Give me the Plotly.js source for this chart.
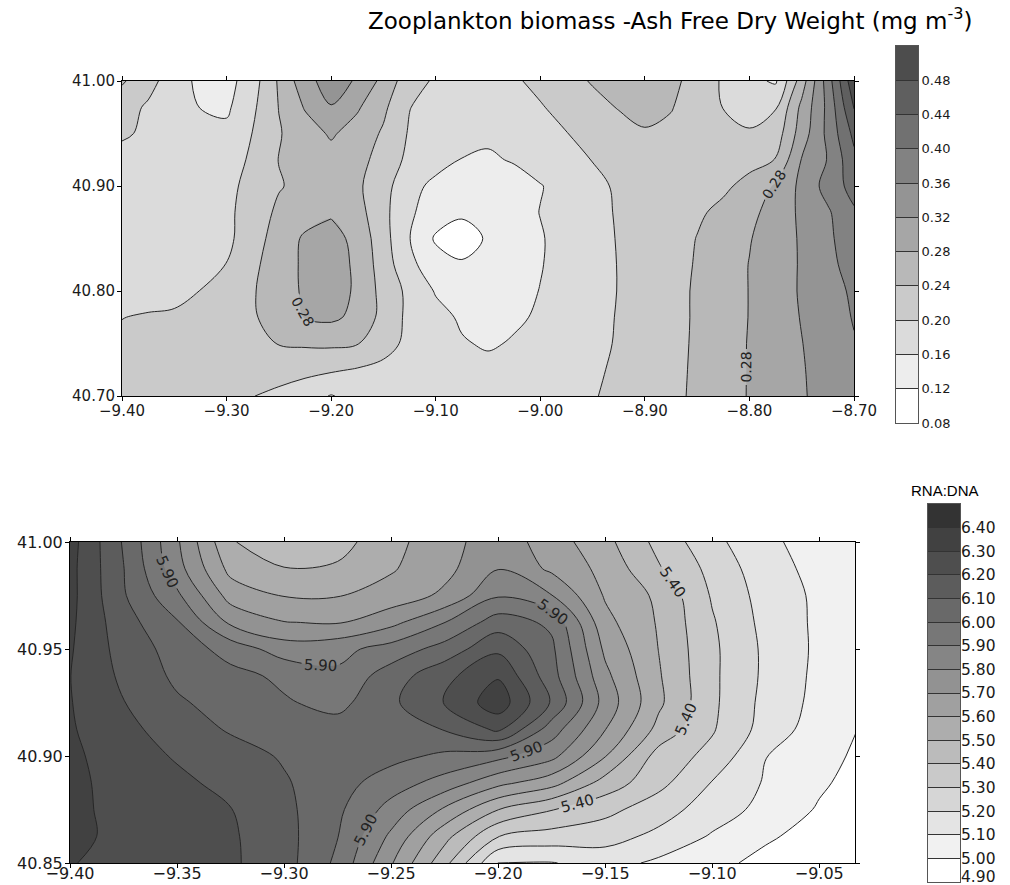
<!DOCTYPE html>
<html>
<head>
<meta charset="utf-8">
<script src="https://cdn.plot.ly/plotly-3.0.1.min.js"></script>
<style>html,body{margin:0;padding:0;background:#fff;}#chart{width:1010px;height:885px;}</style>
</head>
<body>
<div id="chart"></div>
<script>
// ---------- Top panel: zooplankton biomass (AFDW, mg m-3) ----------
const zoopLon = [-9.400,-9.375,-9.350,-9.325,-9.300,-9.275,-9.250,-9.225,-9.200,-9.175,-9.150,-9.125,-9.100,-9.075,-9.050,-9.025,-9.000,-8.975,-8.950,-8.925,-8.900,-8.875,-8.850,-8.825,-8.800,-8.775,-8.750,-8.725,-8.700];
const zoopLat = [40.700,40.725,40.750,40.775,40.800,40.825,40.850,40.875,40.900,40.925,40.950,40.975,41.000];
const zoopAFDW = [
 [0.218,0.218,0.216,0.213,0.208,0.201,0.190,0.175,0.158,0.172,0.178,0.180,0.180,0.178,0.178,0.180,0.184,0.190,0.198,0.207,0.216,0.229,0.248,0.266,0.282,0.300,0.316,0.335,0.352],
 [0.215,0.217,0.219,0.220,0.222,0.222,0.218,0.212,0.205,0.197,0.190,0.183,0.177,0.172,0.170,0.173,0.178,0.185,0.195,0.205,0.215,0.228,0.247,0.265,0.282,0.300,0.317,0.337,0.355],
 [0.210,0.213,0.217,0.222,0.228,0.234,0.241,0.245,0.247,0.242,0.215,0.190,0.178,0.163,0.156,0.163,0.170,0.180,0.191,0.203,0.214,0.227,0.246,0.264,0.282,0.300,0.319,0.340,0.358],
 [0.199,0.205,0.210,0.215,0.222,0.236,0.256,0.282,0.288,0.270,0.227,0.190,0.172,0.155,0.150,0.155,0.164,0.177,0.190,0.202,0.213,0.227,0.245,0.263,0.281,0.300,0.322,0.345,0.362],
 [0.180,0.178,0.180,0.201,0.217,0.237,0.260,0.286,0.298,0.274,0.226,0.190,0.157,0.145,0.143,0.148,0.161,0.174,0.188,0.201,0.212,0.227,0.245,0.262,0.281,0.302,0.324,0.348,0.365],
 [0.176,0.174,0.175,0.180,0.201,0.232,0.260,0.287,0.300,0.272,0.220,0.170,0.137,0.125,0.130,0.142,0.158,0.174,0.189,0.201,0.213,0.226,0.243,0.262,0.281,0.300,0.324,0.350,0.375],
 [0.178,0.176,0.176,0.180,0.192,0.220,0.260,0.285,0.295,0.268,0.215,0.161,0.115,0.100,0.125,0.140,0.157,0.174,0.188,0.202,0.214,0.225,0.241,0.258,0.278,0.298,0.325,0.352,0.385],
 [0.180,0.178,0.177,0.180,0.192,0.217,0.248,0.265,0.275,0.255,0.211,0.166,0.140,0.127,0.133,0.143,0.161,0.176,0.190,0.203,0.214,0.224,0.235,0.248,0.270,0.295,0.328,0.355,0.395],
 [0.185,0.183,0.182,0.183,0.190,0.212,0.237,0.252,0.258,0.247,0.214,0.173,0.150,0.138,0.137,0.145,0.158,0.175,0.191,0.205,0.214,0.222,0.228,0.234,0.250,0.285,0.330,0.375,0.415],
 [0.190,0.185,0.182,0.180,0.186,0.205,0.241,0.255,0.265,0.253,0.225,0.190,0.175,0.159,0.155,0.163,0.178,0.188,0.201,0.207,0.212,0.216,0.220,0.225,0.230,0.241,0.322,0.362,0.430],
 [0.204,0.195,0.185,0.175,0.170,0.201,0.237,0.262,0.285,0.263,0.235,0.196,0.180,0.170,0.167,0.175,0.188,0.199,0.212,0.225,0.236,0.232,0.222,0.212,0.206,0.218,0.300,0.370,0.450],
 [0.215,0.195,0.177,0.159,0.153,0.193,0.241,0.283,0.318,0.285,0.248,0.201,0.185,0.178,0.177,0.185,0.197,0.213,0.228,0.242,0.253,0.242,0.222,0.199,0.177,0.197,0.290,0.370,0.482],
 [0.245,0.213,0.180,0.150,0.145,0.183,0.245,0.305,0.340,0.315,0.268,0.215,0.195,0.185,0.188,0.195,0.210,0.227,0.243,0.255,0.265,0.250,0.225,0.195,0.170,0.155,0.260,0.380,0.510]
];
const zoopLevels = [0.08,0.12,0.16,0.20,0.24,0.28,0.32,0.36,0.40,0.44,0.48,0.52];
const zoopLonTicks = [-9.40,-9.30,-9.20,-9.10,-9.00,-8.90,-8.80,-8.70];
const zoopLatTicks = [40.70,40.80,40.90,41.00];
const zoopLabelLevel = 0.28;

// ---------- Bottom panel: RNA:DNA ----------
const rnaLon = [-9.400,-9.375,-9.350,-9.325,-9.300,-9.275,-9.250,-9.225,-9.200,-9.175,-9.150,-9.125,-9.100,-9.075,-9.050,-9.025];
const rnaLat = [40.8500,40.8625,40.8750,40.8875,40.9000,40.9125,40.9250,40.9375,40.9500,40.9625,40.9750,40.9875,41.0000];
const rnaRatio = [
 [6.305,6.270,6.245,6.215,6.140,5.978,5.710,5.432,5.098,5.095,5.140,5.080,5.030,4.970,4.930,4.900],
 [6.320,6.280,6.245,6.213,6.136,6.003,5.780,5.534,5.302,5.260,5.240,5.175,5.090,5.015,4.960,4.920],
 [6.320,6.275,6.240,6.203,6.126,6.020,5.863,5.685,5.502,5.405,5.330,5.245,5.150,5.070,4.990,4.940],
 [6.320,6.270,6.223,6.170,6.110,6.040,5.950,5.860,5.730,5.640,5.460,5.330,5.195,5.090,5.015,4.950],
 [6.320,6.250,6.190,6.140,6.090,6.060,6.030,5.980,5.930,5.830,5.605,5.360,5.270,5.102,5.030,4.970],
 [6.310,6.230,6.150,6.090,6.050,6.040,6.050,6.105,6.220,5.950,5.703,5.470,5.310,5.160,5.050,4.980],
 [6.305,6.203,6.113,6.060,6.010,5.970,6.080,6.203,6.360,6.090,5.760,5.520,5.320,5.170,5.070,4.995],
 [6.302,6.180,6.080,6.030,5.980,5.920,6.050,6.170,6.290,6.040,5.725,5.510,5.320,5.180,5.075,5.035],
 [6.310,6.160,6.060,5.960,5.850,5.870,5.940,6.040,6.180,6.020,5.680,5.498,5.320,5.180,5.080,5.040],
 [6.320,6.140,6.010,5.780,5.703,5.690,5.770,5.898,6.050,5.980,5.630,5.490,5.310,5.170,5.080,5.040],
 [6.330,6.110,5.920,5.660,5.595,5.595,5.640,5.720,5.890,5.803,5.590,5.480,5.290,5.160,5.080,5.040],
 [6.330,6.103,5.840,5.570,5.505,5.515,5.590,5.670,5.797,5.680,5.570,5.410,5.270,5.140,5.070,5.040],
 [6.340,6.090,5.815,5.510,5.420,5.460,5.570,5.660,5.760,5.650,5.530,5.370,5.230,5.120,5.060,5.030]
];
const rnaLevels = [4.90,5.00,5.10,5.20,5.30,5.40,5.50,5.60,5.70,5.80,5.90,6.00,6.10,6.20,6.30,6.40,6.50];
const rnaLonTicks = [-9.40,-9.35,-9.30,-9.25,-9.20,-9.15,-9.10,-9.05];
const rnaLatTicks = [40.85,40.90,40.95,41.00];
const rnaLabelLevels = [5.40,5.90];

// ---------- helpers ----------
const W = 1010, H = 885;
const px = v => v / W;
const py = v => (H - v) / H;
const lineCol = '#262626';
const zoopScale = [[0,'#ffffff'],[1,'#4d4d4d']];
const rnaScale = [[0,'#ffffff'],[1,'#333333']];

function levelStep(lv){ return +(lv[1]-lv[0]).toFixed(6); }
function centers(lv){ const c=[]; for(let i=0;i<lv.length-1;i++) c.push((lv[i]+lv[i+1])/2); return c; }
function sub(arr,a,b){ return arr.slice(a,b+1); }
function subZ(z,r0,r1,c0,c1){ return z.slice(r0,r1+1).map(r=>r.slice(c0,c1+1)); }

function fillTrace(x,y,z,lv,scale,xa,ya){
  return {type:'contour',x:x,y:y,z:z,xaxis:xa,yaxis:ya,autocontour:false,
    contours:{coloring:'fill',start:lv[1],end:lv[lv.length-2],size:levelStep(lv),showlines:false},
    colorscale:scale,showscale:false,line:{width:0,smoothing:1},hoverinfo:'skip'};
}
// lines only; when labelled, extra empty levels (beyond the data) only tune label spacing
function lineTrace(x,y,z,start,end,size,xa,ya,lfs){
  return {type:'contour',x:x,y:y,z:z,xaxis:xa,yaxis:ya,autocontour:false,
    contours:{coloring:'none',start:start,end:end,size:size,showlines:true,showlabels:!!lfs,
      labelformat:'.2f',labelfont:{family:'DejaVu Sans, sans-serif',size:lfs||14,color:'#222'}},
    line:{color:lineCol,width:1,smoothing:1},showscale:false,hoverinfo:'skip'};
}
function barTrace(lv,scale,xa,ya){
  const c = centers(lv);
  return {type:'heatmap',x:[0],y:c,z:c.map(v=>[v]),zmin:c[0],zmax:c[c.length-1],
    colorscale:scale,showscale:false,xaxis:xa,yaxis:ya,hoverinfo:'skip'};
}

const zs = levelStep(zoopLevels), rs = levelStep(rnaLevels);
const zLast = zoopLevels[zoopLevels.length-2], rLast = rnaLevels[rnaLevels.length-2];

// top 0.28 contour split in blocks so that labels fall where the reference has them
const nC = zoopLon.length-1, nR = zoopLat.length-1, cMid = 8, cSplit = 16, rSplit = 8;
const data = [
  fillTrace(zoopLon,zoopLat,zoopAFDW,zoopLevels,zoopScale,'x','y'),
  lineTrace(zoopLon,zoopLat,zoopAFDW,zoopLevels[1],zoopLabelLevel-zs,zs,'x','y'),
  lineTrace(zoopLon,zoopLat,zoopAFDW,zoopLabelLevel+zs,zLast,zs,'x','y'),
  lineTrace(sub(zoopLon,0,cMid),sub(zoopLat,0,rSplit),subZ(zoopAFDW,0,rSplit,0,cMid),zoopLabelLevel,zoopLabelLevel,zs,'x','y',14),
  lineTrace(sub(zoopLon,cMid,cSplit),sub(zoopLat,0,rSplit),subZ(zoopAFDW,0,rSplit,cMid,cSplit),zoopLabelLevel,zoopLabelLevel,zs,'x','y'),
  lineTrace(sub(zoopLon,0,cSplit),sub(zoopLat,rSplit,nR),subZ(zoopAFDW,rSplit,nR,0,cSplit),zoopLabelLevel,zoopLabelLevel,zs,'x','y'),
  lineTrace(sub(zoopLon,cSplit,nC),zoopLat,subZ(zoopAFDW,0,nR,cSplit,nC),zoopLabelLevel,zoopLabelLevel+0.3*59,0.3,'x','y',14),

  fillTrace(rnaLon,rnaLat,rnaRatio,rnaLevels,rnaScale,'x2','y2'),
  lineTrace(rnaLon,rnaLat,rnaRatio,rnaLevels[1],rnaLabelLevels[0]-rs,rs,'x2','y2'),
  lineTrace(rnaLon,rnaLat,rnaRatio,rnaLabelLevels[0]+rs,rnaLabelLevels[1]-rs,rs,'x2','y2'),
  lineTrace(rnaLon,rnaLat,rnaRatio,rnaLabelLevels[1]+rs,rLast,rs,'x2','y2'),
  lineTrace(rnaLon,rnaLat,rnaRatio,rnaLabelLevels[0],rnaLabelLevels[0]+0.5*99,rnaLabelLevels[1]-rnaLabelLevels[0],'x2','y2',15),

  barTrace(zoopLevels,zoopScale,'x3','y3'),
  barTrace(rnaLevels,rnaScale,'x4','y4'),
  // invisible anchor so the label axis of the lower colour bar is drawn
  {type:'scatter',mode:'markers',x:[0],y:[rnaLevels[8]],xaxis:'x4',yaxis:'y6',marker:{opacity:0},hoverinfo:'skip',showlegend:false}
];

const tickFontTop = {family:'DejaVu Sans, sans-serif',size:15,color:'#1a1a1a'};
const tickFontBot = {family:'DejaVu Sans, sans-serif',size:16,color:'#1a1a1a'};
function mainAxis(domain,range,tv,anchor,font,standoff){
  return {domain:domain,range:range,anchor:anchor,tickvals:tv,tickformat:'.2f',ticks:'outside',ticklen:4,
    tickcolor:'#000',showline:true,linecolor:'#000',linewidth:1,mirror:'ticks',showgrid:false,zeroline:false,
    tickfont:font,ticklabelstandoff:standoff||0,fixedrange:true};
}
function barX(domain,anchor){
  return {domain:domain,anchor:anchor,range:[-0.5,0.5],showticklabels:false,ticks:'',showline:true,mirror:true,
    linecolor:'#555',linewidth:1,showgrid:false,zeroline:false,fixedrange:true};
}
function barY(domain,anchor,lv,len,font,showLabels){
  return {domain:domain,anchor:anchor,range:[lv[0],lv[lv.length-1]],side:'right',tickvals:lv.slice(0,-1),
    tickformat:'.2f',ticks:'inside',ticklen:len,tickcolor:'#333',tickwidth:1,showline:true,mirror:true,
    linecolor:'#555',linewidth:1,showgrid:false,zeroline:false,tickfont:font,showticklabels:showLabels,fixedrange:true};
}
// labels of the lower colour bar: the lowest one is nudged up so it stays inside the picture
const rnaBarLabelPos = rnaLevels.slice(0,-1).map((v,i)=> i===0 ? v+0.024 : v);
const rnaBarLabelTxt = rnaLevels.slice(0,-1).map(v=>v.toFixed(2));
const rnaBarFont = {family:'DejaVu Sans, sans-serif',size:15.5,color:'#1a1a1a'};

const layout = {
  width:W,height:H,margin:{l:0,r:0,t:0,b:0},paper_bgcolor:'#fff',plot_bgcolor:'#fff',showlegend:false,
  title:{text:'Zooplankton biomass -Ash Free Dry Weight (mg m<sup>-3</sup>)',
    font:{family:'DejaVu Sans, sans-serif',size:23,color:'#000'},
    x:px(368),xanchor:'left',y:py(21),yanchor:'middle'},
  xaxis:mainAxis([px(122),px(854)],[-9.40,-8.70],zoopLonTicks,'y',tickFontTop,-3),
  yaxis:mainAxis([py(396),py(81)],[40.70,41.00],zoopLatTicks,'x',tickFontTop,-1),
  xaxis2:mainAxis([px(70),px(855)],[-9.40,-9.0333],rnaLonTicks,'y2',tickFontBot,-8),
  yaxis2:mainAxis([py(863),py(542)],[40.85,41.00],rnaLatTicks,'x2',tickFontBot,-1),
  xaxis3:barX([px(896),px(918)],'y3'),
  yaxis3:barY([py(423),py(46)],'x3',zoopLevels,22,{family:'DejaVu Sans, sans-serif',size:13,color:'#1a1a1a'},true),
  xaxis4:barX([px(928),px(960)],'y4'),
  yaxis4:barY([py(882),py(504)],'x4',rnaLevels,32,rnaBarFont,false),
  yaxis6:{overlaying:'y4',anchor:'x4',side:'right',range:[rnaLevels[0],rnaLevels[rnaLevels.length-1]],
    tickvals:rnaBarLabelPos,ticktext:rnaBarLabelTxt,ticks:'',showline:false,showgrid:false,zeroline:false,
    tickfont:rnaBarFont,ticklabeloverflow:'allow',fixedrange:true},
  annotations:[{text:'RNA:DNA',xref:'paper',yref:'paper',x:px(945),y:py(490),xanchor:'center',yanchor:'middle',
    showarrow:false,font:{family:'Liberation Sans Narrow, Liberation Sans, sans-serif',size:15,color:'#000'}}]
};

Plotly.newPlot('chart',data,layout,{staticPlot:true,displayModeBar:false});
</script>
</body>
</html>
